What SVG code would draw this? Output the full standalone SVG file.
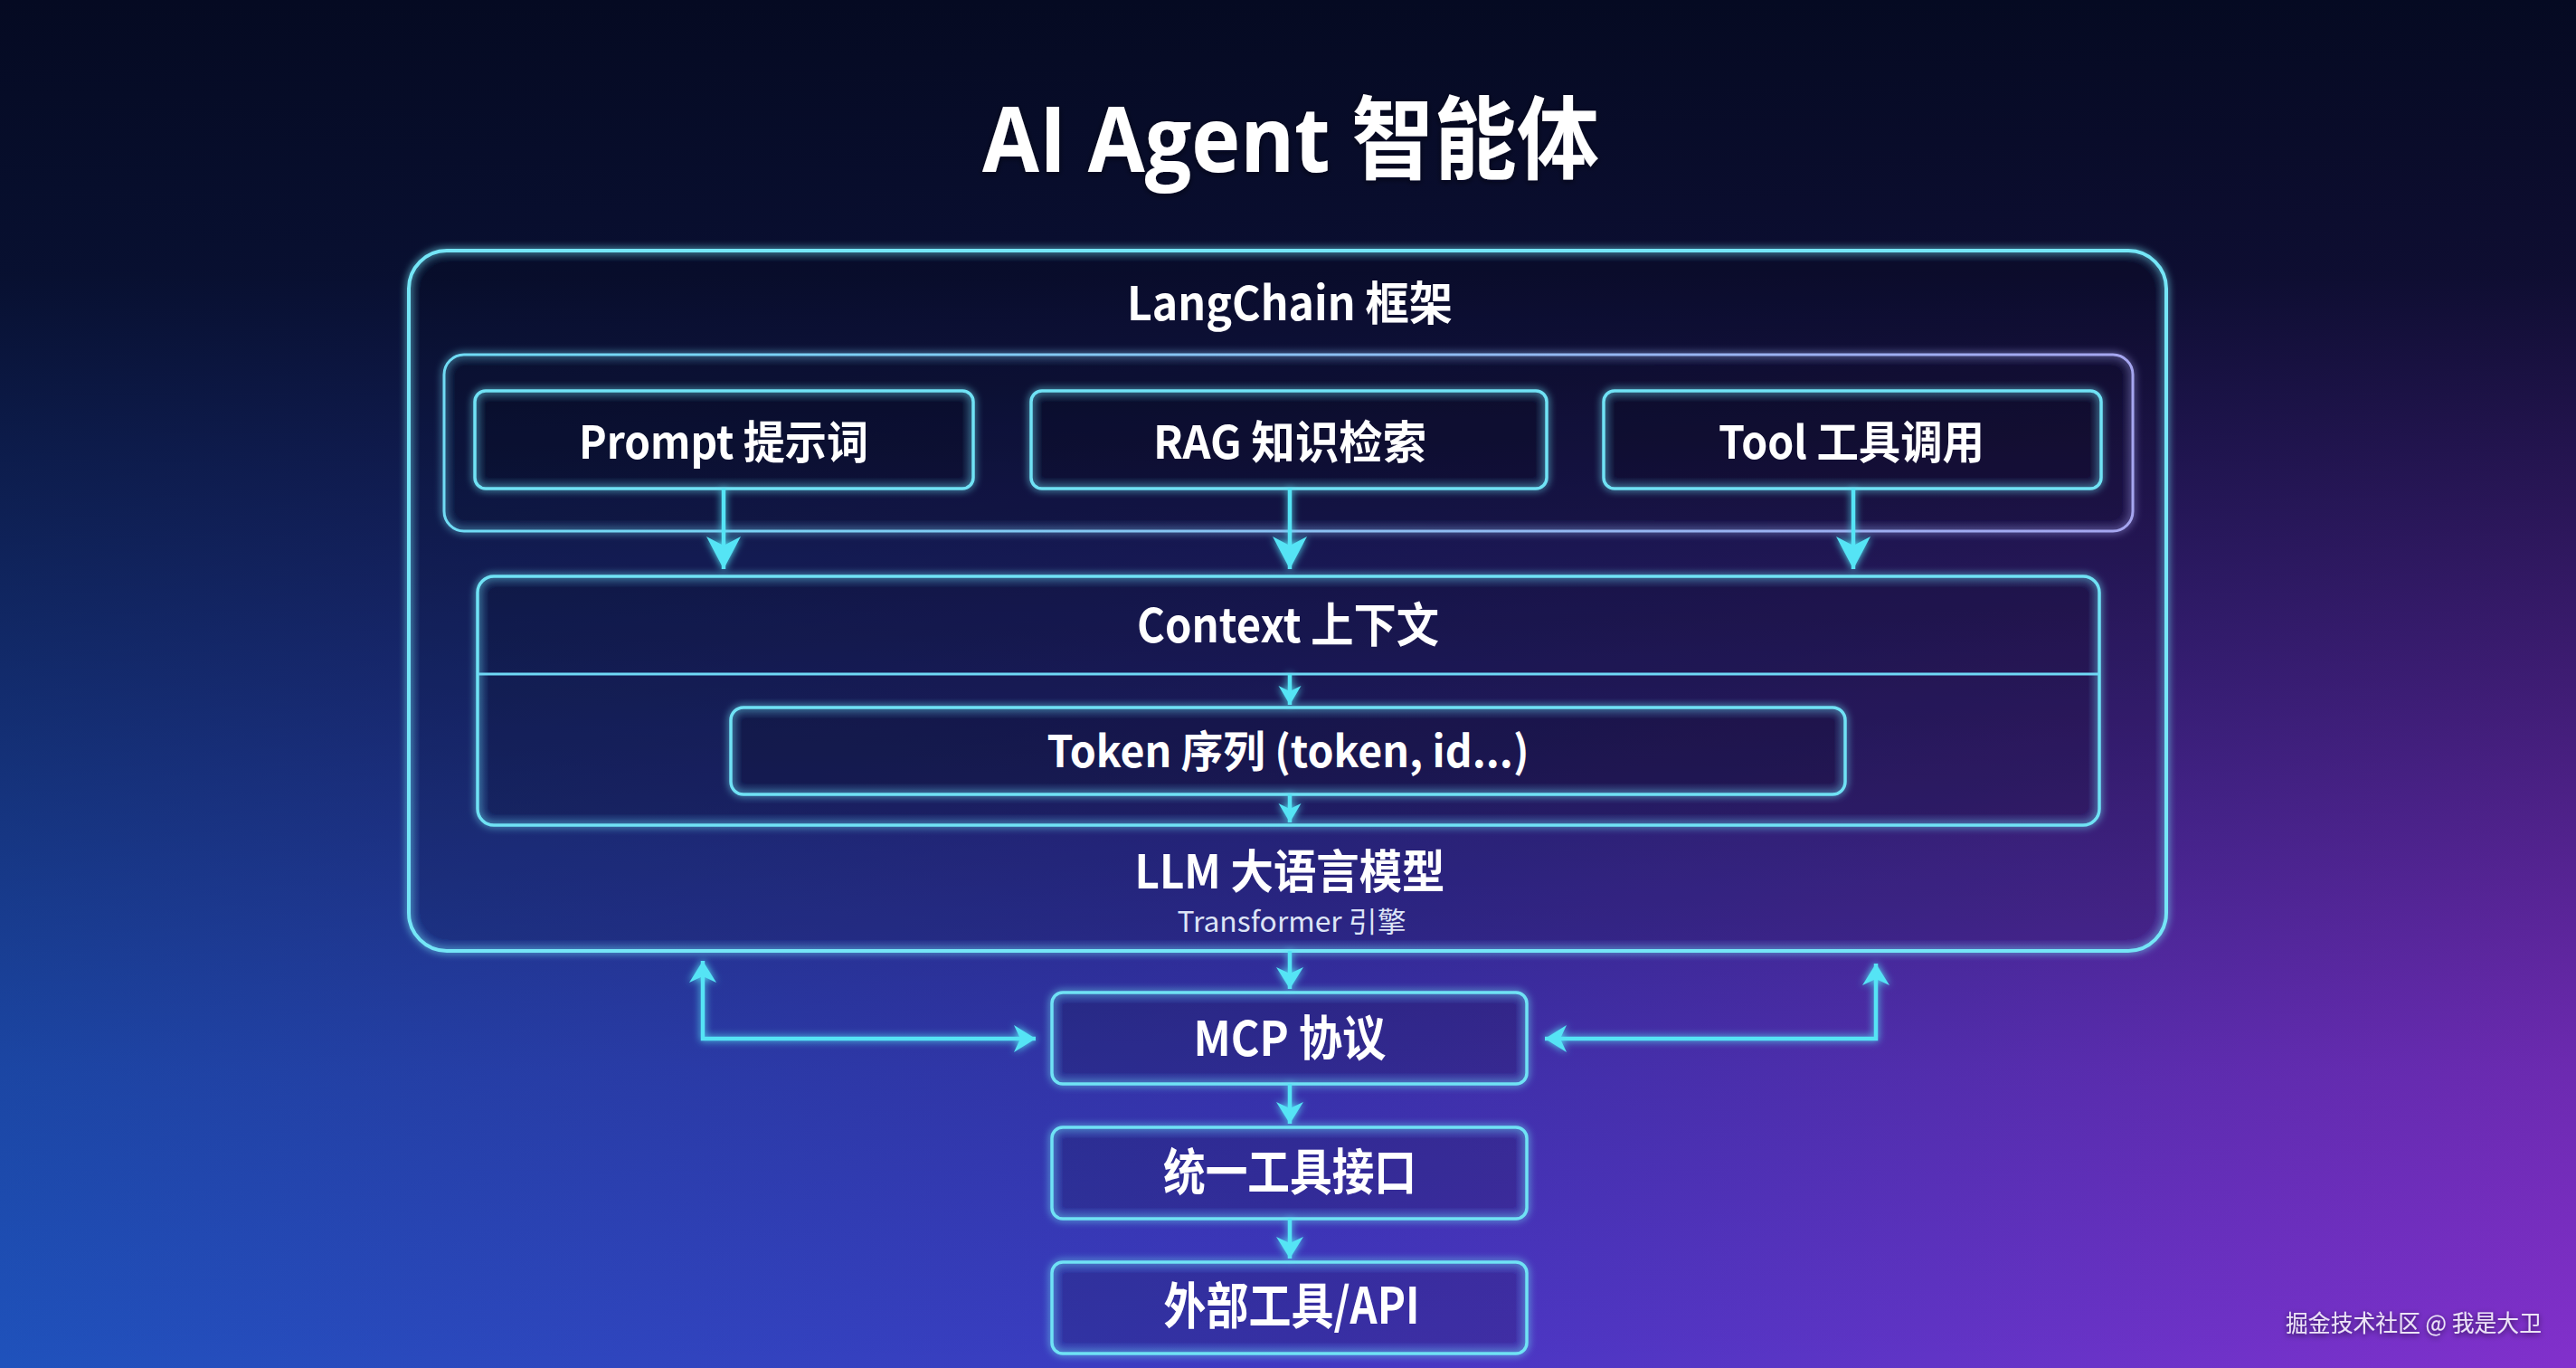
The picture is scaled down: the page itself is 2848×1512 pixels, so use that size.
<svg xmlns="http://www.w3.org/2000/svg" width="2848" height="1512" viewBox="0 0 2848 1512">
  <defs>
    <linearGradient id="bgH" x1="0" y1="0" x2="1" y2="0">
      <stop offset="0" stop-color="#1f52bc"/>
      <stop offset="0.5" stop-color="#4038c2"/>
      <stop offset="1" stop-color="#8230cc"/>
    </linearGradient>
    <linearGradient id="bgV" x1="0" y1="0" x2="0" y2="1">
      <stop offset="0" stop-color="#050a22" stop-opacity="1"/>
      <stop offset="0.2" stop-color="#060b26" stop-opacity="0.93"/>
      <stop offset="0.5" stop-color="#080c2c" stop-opacity="0.55"/>
      <stop offset="0.78" stop-color="#0a0e32" stop-opacity="0.18"/>
      <stop offset="1" stop-color="#0a0e32" stop-opacity="0"/>
    </linearGradient>
    <linearGradient id="innerStroke" x1="0" y1="0" x2="1" y2="0">
      <stop offset="0" stop-color="#6fdcf5"/>
      <stop offset="1" stop-color="#a6a6f0"/>
    </linearGradient>
    <filter id="glow" x="-10%" y="-10%" width="120%" height="120%">
      <feGaussianBlur in="SourceGraphic" stdDeviation="4" result="b"/>
      <feMerge>
        <feMergeNode in="b"/>
        <feMergeNode in="SourceGraphic"/>
      </feMerge>
    </filter>
    <filter id="tshadow" x="-10%" y="-30%" width="120%" height="160%">
      <feDropShadow dx="0" dy="2" stdDeviation="3" flood-color="#000018" flood-opacity="0.6"/>
    </filter>
    <marker id="arrowL" markerUnits="userSpaceOnUse" markerWidth="40" markerHeight="40" refX="36" refY="19" orient="auto">
      <path d="M0,0 L36,19 L0,38 L10,19 z" fill="#55e4f5"/>
    </marker>
    <marker id="arrowM" markerUnits="userSpaceOnUse" markerWidth="30" markerHeight="34" refX="24" refY="15" orient="auto-start-reverse">
      <path d="M0,0 L24,15 L0,30 L7,15 z" fill="#55e4f5"/>
    </marker>
    <marker id="arrowS" markerUnits="userSpaceOnUse" markerWidth="26" markerHeight="28" refX="21" refY="12.5" orient="auto">
      <path d="M0,0 L21,12.5 L0,25 L6,12.5 z" fill="#55e4f5"/>
    </marker>
  </defs>
  <style>
    .box { fill: rgba(6,10,40,0.08); stroke: #6fe2f5; stroke-width: 3.5; }
    .outer { fill: rgba(6,10,40,0.06); stroke: #74e6f7; stroke-width: 4; }
    .inner { fill: rgba(6,10,40,0.06); stroke: url(#innerStroke); stroke-width: 3; }
    .conn { fill: none; stroke: #55e4f5; stroke-width: 4.5; }
    .t { font-family: "Noto Sans CJK SC", "Noto Sans", sans-serif; font-weight: 700; fill: #ffffff; text-anchor: middle; }
    .sub { font-family: "Noto Sans CJK SC", "Noto Sans", sans-serif; font-weight: 400; fill: #dde4f6; text-anchor: middle; }
    .title { font-family: "Open Sans", "Noto Sans CJK SC", sans-serif; font-weight: 700; fill: #ffffff; text-anchor: middle; }
    .wm { font-family: "Noto Sans CJK SC", sans-serif; font-weight: 400; fill: #ece4f6; }
  </style>

  <rect x="0" y="0" width="2848" height="1512" fill="url(#bgH)"/>
  <rect x="0" y="0" width="2848" height="1512" fill="url(#bgV)"/>

  <text class="title" x="1427" y="190" font-size="100" textLength="682" lengthAdjust="spacingAndGlyphs" filter="url(#tshadow)">AI Agent 智能体</text>

  <g id="agent-frame" filter="url(#glow)">
    <rect class="outer" x="452" y="277" width="1943" height="774" rx="42"/>
  </g>
  <g id="langchain">
    <text class="t" x="1426" y="354" font-size="51" textLength="360" lengthAdjust="spacingAndGlyphs">LangChain 框架</text>
    <rect class="inner" x="491" y="392" width="1867" height="195" rx="22" filter="url(#glow)"/>
  </g>

  <g id="prompt">
    <rect class="box" x="525" y="432" width="551" height="108" rx="12" filter="url(#glow)"/>
    <text class="t" x="800" y="507" font-size="50" textLength="320" lengthAdjust="spacingAndGlyphs">Prompt 提示词</text>
  </g>

  <g id="rag">
    <rect class="box" x="1140" y="432" width="570" height="108" rx="12" filter="url(#glow)"/>
    <text class="t" x="1426" y="507" font-size="50" textLength="302" lengthAdjust="spacingAndGlyphs">RAG 知识检索</text>
  </g>

  <g id="tool">
    <rect class="box" x="1773" y="432" width="550" height="108" rx="12" filter="url(#glow)"/>
    <text class="t" x="2047" y="507" font-size="50" textLength="294" lengthAdjust="spacingAndGlyphs">Tool 工具调用</text>
  </g>

  <g id="context">
    <rect class="box" x="528" y="637" width="1793" height="275" rx="18" filter="url(#glow)"/>
    <line x1="528" y1="745" x2="2321" y2="745" stroke="#6fd8f5" stroke-width="3"/>
    <text class="t" x="1424" y="710" font-size="52" textLength="334" lengthAdjust="spacingAndGlyphs">Context 上下文</text>
  </g>

  <g id="token">
    <rect class="box" x="808" y="782" width="1232" height="96" rx="14" filter="url(#glow)"/>
    <text class="t" x="1424" y="848" font-size="48" textLength="533" lengthAdjust="spacingAndGlyphs">Token 序列 (token, id...)</text>
  </g>

  <g id="llm">
    <text class="t" x="1426" y="982" font-size="51" textLength="343" lengthAdjust="spacingAndGlyphs">LLM 大语言模型</text>
    <text class="sub" x="1428" y="1030" font-size="31" textLength="253" lengthAdjust="spacingAndGlyphs">Transformer 引擎</text>
  </g>

  <g id="mcp">
    <rect class="box" x="1163" y="1097" width="525" height="101" rx="12" filter="url(#glow)"/>
    <text class="t" x="1426" y="1167" font-size="53" textLength="213" lengthAdjust="spacingAndGlyphs">MCP 协议</text>
  </g>

  <g id="unified">
    <rect class="box" x="1163" y="1246" width="525" height="101" rx="12" filter="url(#glow)"/>
    <text class="t" x="1426" y="1315" font-size="55" textLength="280" lengthAdjust="spacingAndGlyphs">统一工具接口</text>
  </g>

  <g id="external">
    <rect class="box" x="1163" y="1395" width="525" height="101" rx="12" filter="url(#glow)"/>
    <text class="t" x="1428" y="1463" font-size="55" textLength="283" lengthAdjust="spacingAndGlyphs">外部工具/API</text>
  </g>

  <g id="connectors" filter="url(#glow)">
    <line class="conn" x1="800" y1="540" x2="800" y2="629" marker-end="url(#arrowL)"/>
    <line class="conn" x1="1426" y1="540" x2="1426" y2="629" marker-end="url(#arrowL)"/>
    <line class="conn" x1="2049" y1="540" x2="2049" y2="629" marker-end="url(#arrowL)"/>
    <line class="conn" x1="1426" y1="745" x2="1426" y2="779" stroke-width="3.5" marker-end="url(#arrowS)"/>
    <line class="conn" x1="1426" y1="878" x2="1426" y2="909" stroke-width="3.5" marker-end="url(#arrowS)"/>
    <line class="conn" x1="1426" y1="1051" x2="1426" y2="1093" marker-end="url(#arrowM)"/>
    <line class="conn" x1="1426" y1="1198" x2="1426" y2="1242" marker-end="url(#arrowM)"/>
    <line class="conn" x1="1426" y1="1347" x2="1426" y2="1391" marker-end="url(#arrowM)"/>
    <polyline class="conn" points="777,1062 777,1148 1145,1148" marker-start="url(#arrowM)" marker-end="url(#arrowM)"/>
    <polyline class="conn" points="2074,1065 2074,1148 1708,1148" marker-start="url(#arrowM)" marker-end="url(#arrowM)"/>
  </g>

  <text class="wm" x="2527" y="1472" font-size="26" textLength="283" lengthAdjust="spacingAndGlyphs" filter="url(#tshadow)">掘金技术社区 @ 我是大卫</text>
</svg>
